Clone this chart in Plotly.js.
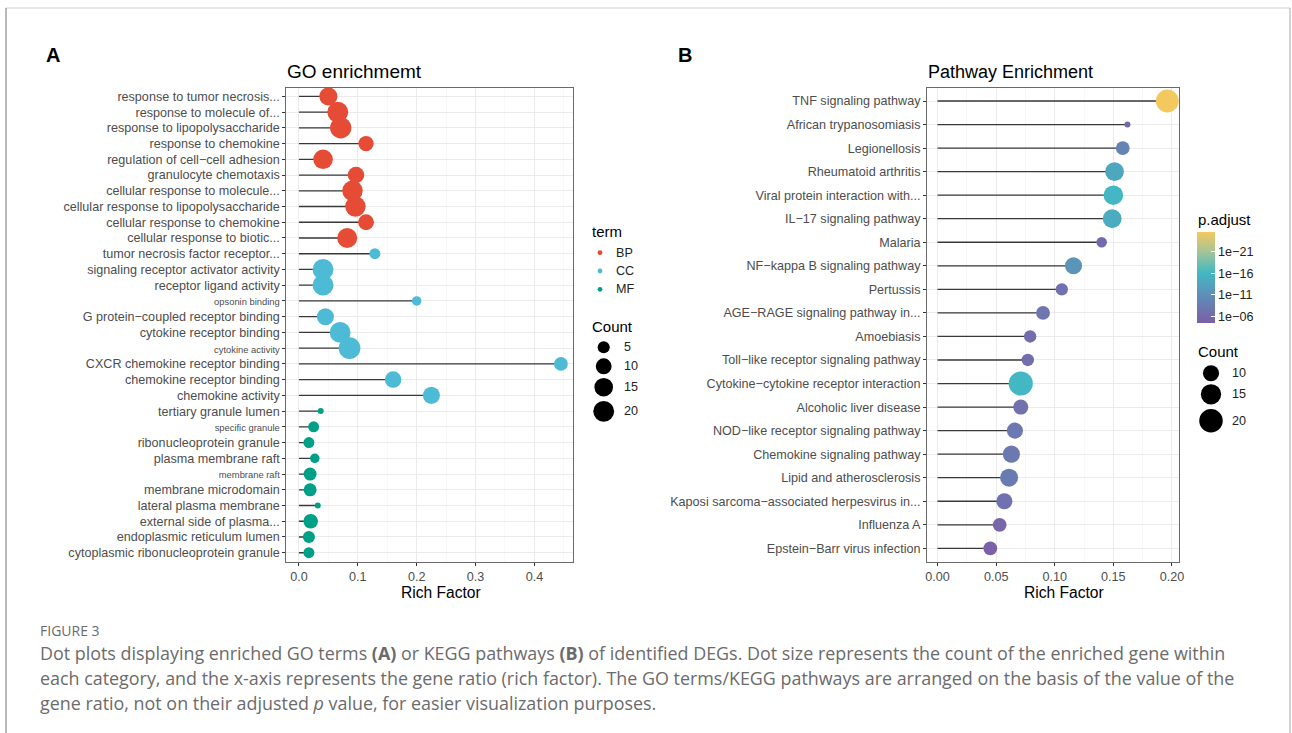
<!DOCTYPE html>
<html>
<head>
<meta charset="utf-8">
<script src="https://cdn.plot.ly/plotly-3.0.1.min.js"></script>
<style>
html,body{margin:0;padding:0;background:#fff;}
#chart{width:1292px;height:733px;}
</style>
</head>
<body>
<div id="chart"></div>
<script>
// ---------------- DATA ----------------
const goTerms = [
  "response to tumor necrosis...",
  "response to molecule of...",
  "response to lipopolysaccharide",
  "response to chemokine",
  "regulation of cell\u2212cell adhesion",
  "granulocyte chemotaxis",
  "cellular response to molecule...",
  "cellular response to lipopolysaccharide",
  "cellular response to chemokine",
  "cellular response to biotic...",
  "tumor necrosis factor receptor...",
  "signaling receptor activator activity",
  "receptor ligand activity",
  "opsonin binding",
  "G protein\u2212coupled receptor binding",
  "cytokine receptor binding",
  "cytokine activity",
  "CXCR chemokine receptor binding",
  "chemokine receptor binding",
  "chemokine activity",
  "tertiary granule lumen",
  "specific granule",
  "ribonucleoprotein granule",
  "plasma membrane raft",
  "membrane raft",
  "membrane microdomain",
  "lateral plasma membrane",
  "external side of plasma...",
  "endoplasmic reticulum lumen",
  "cytoplasmic ribonucleoprotein granule"
];
const goRichFactor = [
  0.050, 0.066, 0.071, 0.114, 0.041, 0.097, 0.091, 0.096, 0.114, 0.082,
  0.129, 0.041, 0.041, 0.200, 0.045, 0.070, 0.086, 0.445, 0.160, 0.225,
  0.037, 0.025, 0.017, 0.027, 0.019, 0.019, 0.032, 0.020, 0.017, 0.017
];
const goCount = [
  14, 20, 21, 9, 17, 11, 19, 19, 10, 18,
  4, 20, 20, 3, 12, 20, 22, 7, 11, 12,
  2, 4, 4, 3, 6, 6, 2, 8, 5, 4
];
const goTerm = [
  "BP","BP","BP","BP","BP","BP","BP","BP","BP","BP",
  "CC","CC","CC","CC","CC","CC","CC","CC","CC","CC",
  "MF","MF","MF","MF","MF","MF","MF","MF","MF","MF"
];
const termLevels = ["BP","CC","MF"];
const countBreaksA = [5, 10, 15, 20];

const keggPathways = [
  "TNF signaling pathway",
  "African trypanosomiasis",
  "Legionellosis",
  "Rheumatoid arthritis",
  "Viral protein interaction with...",
  "IL\u221217 signaling pathway",
  "Malaria",
  "NF\u2212kappa B signaling pathway",
  "Pertussis",
  "AGE\u2212RAGE signaling pathway in...",
  "Amoebiasis",
  "Toll\u2212like receptor signaling pathway",
  "Cytokine\u2212cytokine receptor interaction",
  "Alcoholic liver disease",
  "NOD\u2212like receptor signaling pathway",
  "Chemokine signaling pathway",
  "Lipid and atherosclerosis",
  "Kaposi sarcoma\u2212associated herpesvirus in...",
  "Influenza A",
  "Epstein\u2212Barr virus infection"
];
const keggRichFactor = [
  0.196, 0.162, 0.158, 0.151, 0.150, 0.149, 0.140, 0.116, 0.106, 0.090,
  0.079, 0.077, 0.071, 0.071, 0.066, 0.063, 0.061, 0.057, 0.053, 0.045
];
const keggCount = [
  19, 5, 8, 13, 14, 13, 6, 11, 7, 8,
  7, 7, 21, 9, 10, 11, 12, 10, 8, 8
];
const keggPadjust = [
  3e-26, 2e-6, 3e-10, 1e-14, 1e-16, 3e-15, 1e-6, 3e-12, 1e-7, 3e-8,
  3e-7, 3e-7, 1e-16, 1e-7, 1e-8, 1e-8, 3e-9, 1e-7, 3e-6, 2.5e-5
];
const padjBreaks = [1e-21, 1e-16, 1e-11, 1e-6];
const padjLabels = ["1e\u221221", "1e\u221216", "1e\u221211", "1e\u221206"];
const countBreaksB = [10, 15, 20];

// ---------------- STYLE ----------------
const W = 1292, H = 733;
const FONT = "Liberation Sans, Arial, Helvetica, sans-serif";
const termColors = {BP: "#E64B35", CC: "#4DBBD5", MF: "#00A087"};
const smallLabelTerms = ["opsonin binding", "cytokine activity", "specific granule", "membrane raft"];
const sizeA = c => 6 + 3.5 * Math.sqrt(Math.max(c - 2, 0));
const sizeB = c => 6 + 4.53 * Math.sqrt(Math.max(c - 5, 0));
const px = x => x / W;
const py = y => 1 - y / H;
const axisText = "#4d4d4d";
const gridMajor = "#EBEBEB";
const gridMinor = "#F5F5F5";
const borderCol = "#6a6a6a";

// ---------------- TRACES ----------------
const idxA = goTerms.map((_, i) => i);
const idxB = keggPathways.map((_, i) => i);

function segments(vals, idx) {
  const xs = [], ys = [];
  vals.forEach((v, i) => { xs.push(0, v, null); ys.push(idx[i], idx[i], null); });
  return {xs, ys};
}
const segA = segments(goRichFactor, idxA);
const segB = segments(keggRichFactor, idxB);

const traces = [];
traces.push({
  x: segA.xs, y: segA.ys, xaxis: "x", yaxis: "y", type: "scatter", mode: "lines",
  line: {color: "#383838", width: 1.3}, hoverinfo: "skip", showlegend: false
});
termLevels.forEach(t => {
  const ii = idxA.filter(i => goTerm[i] === t);
  traces.push({
    x: ii.map(i => goRichFactor[i]), y: ii, xaxis: "x", yaxis: "y",
    type: "scatter", mode: "markers", name: t, showlegend: false,
    marker: {color: termColors[t], size: ii.map(i => sizeA(goCount[i])), line: {width: 0}, opacity: 1}
  });
});
traces.push({
  x: segB.xs, y: segB.ys, xaxis: "x2", yaxis: "y2", type: "scatter", mode: "lines",
  line: {color: "#383838", width: 1.3}, hoverinfo: "skip", showlegend: false
});
traces.push({
  x: keggRichFactor, y: idxB, xaxis: "x2", yaxis: "y2", type: "scatter", mode: "markers",
  showlegend: false,
  marker: {
    size: keggCount.map(sizeB),
    opacity: 1,
    color: keggPadjust.map(p => -Math.log10(p)),
    cmin: 4.5, cmax: 25.6,
    colorscale: [[0, "#7B5EA7"], [0.27, "#6289B6"], [0.55, "#42B8C3"], [0.78, "#A3C49A"], [1, "#F4C85E"]],
    line: {width: 0},
    showscale: true,
    colorbar: {
      x: px(1196.7), xanchor: "left", xpad: 0,
      y: py(232), yanchor: "top", ypad: 0,
      len: 91, lenmode: "pixels", thickness: 18, thicknessmode: "pixels",
      outlinewidth: 0,
      tickmode: "array",
      tickvals: padjBreaks.map(p => -Math.log10(p)),
      ticktext: padjLabels,
      ticks: "inside", ticklen: 4, tickcolor: "#ffffff", tickwidth: 1,
      tickfont: {family: FONT, size: 12.6, color: "#222"},
      title: {text: ""}
    }
  }
});

// ---------------- AXES ----------------
const yTicktextA = goTerms.map(t => smallLabelTerms.includes(t) ? '<span style="font-size:9.4px">' + t + '</span>' : t);

const common = {
  showline: true, mirror: true, linecolor: borderCol, linewidth: 1,
  ticks: "outside", ticklen: 3, tickcolor: "#333", tickwidth: 1,
  tickfont: {family: FONT, size: 12.6, color: axisText},
  zeroline: false, fixedrange: true, showgrid: true, gridcolor: gridMajor, gridwidth: 1
};

const layout = {
  width: W, height: H,
  margin: {l: 0, r: 0, t: 0, b: 0},
  paper_bgcolor: "#ffffff", plot_bgcolor: "#ffffff",
  showlegend: false,
  font: {family: FONT},
  xaxis: Object.assign({}, common, {
    domain: [px(286.3), px(573.3)], anchor: "y", range: [-0.0214, 0.466],
    tickmode: "linear", tick0: 0, dtick: 0.1, tickformat: ".1f",
    minor: {dtick: 0.05, tick0: 0, showgrid: true, gridcolor: gridMinor, gridwidth: 0.7, ticks: ""}
  }),
  yaxis: Object.assign({}, common, {
    domain: [py(561.7), py(87.7)], anchor: "x", range: [29.57, -0.55],
    tickmode: "array", tickvals: idxA, ticktext: yTicktextA
  }),
  xaxis2: Object.assign({}, common, {
    domain: [px(927), px(1179)], anchor: "y2", range: [-0.009, 0.206],
    tickmode: "linear", tick0: 0, dtick: 0.05, tickformat: ".2f",
    minor: {dtick: 0.025, tick0: 0, showgrid: true, gridcolor: gridMinor, gridwidth: 0.7, ticks: ""}
  }),
  yaxis2: Object.assign({}, common, {
    domain: [py(562), py(87.7)], anchor: "x2", range: [19.58, -0.565],
    tickmode: "array", tickvals: idxB, ticktext: keggPathways
  }),
  annotations: [],
  shapes: []
};

function ann(text, x, y, size, opts) {
  layout.annotations.push(Object.assign({
    text: text, xref: "paper", yref: "paper", x: px(x), y: py(y),
    xanchor: "left", yanchor: "middle", showarrow: false,
    font: {family: FONT, size: size, color: "#000"}
  }, opts || {}));
}

// panel letters & titles
ann("<b>A</b>", 44, 55, 20);
ann("<b>B</b>", 676, 55, 20);
ann("GO enrichmemt", 285, 72, 19);
ann("Pathway Enrichment", 925.5, 72, 18);
ann("Rich Factor", 440.5, 592.5, 15.6, {xanchor: "center"});
ann("Rich Factor", 1064, 592.5, 15.6, {xanchor: "center"});

// legend A : term
ann("term", 590, 231.7, 15);
termLevels.forEach((t, k) => {
  const cy = 252.7 + k * 18.3;
  layout.shapes.push({type: "circle", xref: "paper", yref: "paper",
    x0: px(600 - 2.4), x1: px(600 + 2.4), y0: py(cy + 2.4), y1: py(cy - 2.4),
    fillcolor: termColors[t], line: {width: 0}});
  ann(t, 613.5, cy, 12.6, {font: {family: FONT, size: 12.6, color: "#222"}});
});
// legend A : count
ann("Count", 590, 326.7, 15);
const cyA = [347.3, 366.3, 387.2, 411.3];
countBreaksA.forEach((c, k) => {
  const r = sizeA(c) / 2, cx = 603.7, cy = cyA[k];
  layout.shapes.push({type: "circle", xref: "paper", yref: "paper",
    x0: px(cx - r), x1: px(cx + r), y0: py(cy + r), y1: py(cy - r),
    fillcolor: "#000", line: {width: 0}});
  ann(String(c), 621.5, cy, 12.6, {font: {family: FONT, size: 12.6, color: "#222"}});
});

// legend B
ann("p.adjust", 1195.5, 219.5, 15);
ann("Count", 1195.5, 351.7, 15);
const cyB = [373.3, 394.3, 420.7];
countBreaksB.forEach((c, k) => {
  const r = sizeB(c) / 2, cx = 1211, cy = cyB[k];
  layout.shapes.push({type: "circle", xref: "paper", yref: "paper",
    x0: px(cx - r), x1: px(cx + r), y0: py(cy + r), y1: py(cy - r),
    fillcolor: "#000", line: {width: 0}});
  ann(String(c), 1230, cy, 12.6, {font: {family: FONT, size: 12.6, color: "#222"}});
});

// figure frame
layout.shapes.push({type: "line", xref: "paper", yref: "paper", x0: px(6), x1: px(1290), y0: py(8), y1: py(8), line: {color: "#cfcfcf", width: 1.2}});
layout.shapes.push({type: "line", xref: "paper", yref: "paper", x0: px(6), x1: px(6), y0: py(8), y1: 0, line: {color: "#8a8a8a", width: 1.2}});
layout.shapes.push({type: "line", xref: "paper", yref: "paper", x0: px(1290), x1: px(1290), y0: py(8), y1: 0, line: {color: "#b8b8b8", width: 1.2}});

// caption
const CAP = "Open Sans, Lato, sans-serif";
const capCol = "#6b6b6b";
ann("FIGURE 3", 38, 630, 14, {font: {family: CAP, size: 14, color: capCol}});
ann("Dot plots displaying enriched GO terms <b>(A)</b> or KEGG pathways <b>(B)</b> of identified DEGs. Dot size represents the count of the enriched gene within", 38, 653, 17.9, {font: {family: CAP, size: 17.9, color: capCol}});
ann("each category, and the x-axis represents the gene ratio (rich factor). The GO terms/KEGG pathways are arranged on the basis of the value of the", 38, 678, 17.9, {font: {family: CAP, size: 17.9, color: capCol}});
ann("gene ratio, not on their adjusted <i>p</i> value, for easier visualization purposes.", 38, 703, 17.9, {font: {family: CAP, size: 17.9, color: capCol}});

Plotly.newPlot("chart", traces, layout, {displayModeBar: false, staticPlot: true});
</script>
</body>
</html>
